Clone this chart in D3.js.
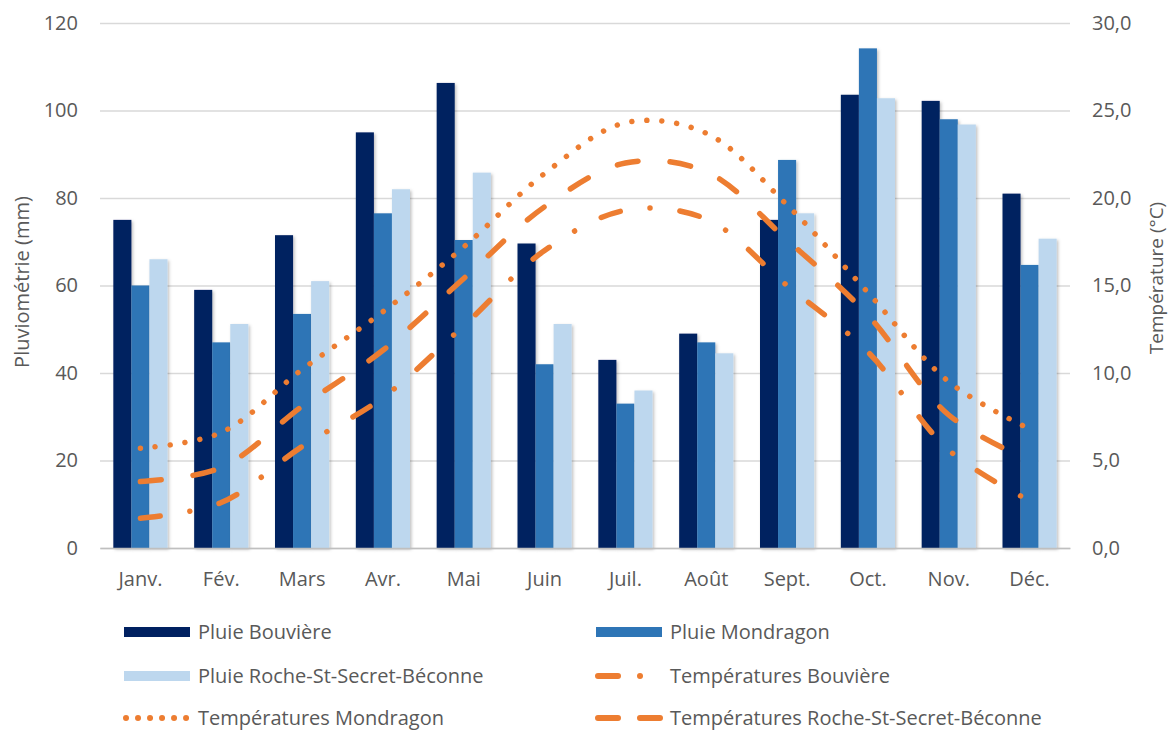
<!DOCTYPE html>
<html>
<head>
<meta charset="utf-8">
<script src="https://cdn.jsdelivr.net/npm/d3@7"></script>
<style>
  body { margin: 0; background: #fff; }
  svg text { font-family: "Open Sans", "Noto Sans", sans-serif; fill: #595959; }
</style>
</head>
<body>
<svg id="chart" width="1170" height="733"></svg>
<script>
// données
const months = ['Janv.', 'Fév.', 'Mars', 'Avr.', 'Mai', 'Juin', 'Juil.', 'Août', 'Sept.', 'Oct.', 'Nov.', 'Déc.'];

const pluieBouviere = [75, 59, 71.5, 95, 106.3, 69.6, 43, 49, 75, 103.6, 102.2, 81];
const pluieMondragon = [60, 47, 53.5, 76.5, 70.4, 42, 33, 47, 88.7, 114.2, 98, 64.7];
const pluieRoche = [66, 51.2, 61, 82, 85.8, 51.2, 36, 44.5, 76.5, 102.8, 96.8, 70.7];

const tempBouviere = [1.7, 2.6, 5.8, 8.6, 12.7, 17.0, 19.3, 18.8, 15.0, 11.2, 5.6, 2.7];
const tempMondragon = [5.7, 6.6, 10.2, 13.5, 17.2, 21.4, 24.3, 23.7, 19.6, 14.6, 9.5, 6.8];
const tempRoche = [3.8, 4.6, 8.1, 11.3, 15.4, 19.5, 22.0, 21.5, 17.6, 13.3, 7.6, 5.0];

const leftTicks = [0, 20, 40, 60, 80, 100, 120];
const rightTicks = [0, 5, 10, 15, 20, 25, 30];

const barSeries = [
  { name: 'Pluie Bouvière', values: pluieBouviere, color: '#002060' },
  { name: 'Pluie Mondragon', values: pluieMondragon, color: '#2E75B6' },
  { name: 'Pluie Roche-St-Secret-Béconne', values: pluieRoche, color: '#BDD7EE' }
];

const orange = '#ED7D31';
const lineSeries = [
  { name: 'Températures Bouvière', values: tempBouviere, dash: '20 30 0.01 30' },
  { name: 'Températures Mondragon', values: tempMondragon, dash: '0.01 15' },
  { name: 'Températures Roche-St-Secret-Béconne', values: tempRoche, dash: '21 32' }
];

const svg = d3.select('#chart');
const plot = { left: 100, right: 1070, top: 23, bottom: 548 };
const fontSize = 20;

const x = d3.scaleBand()
  .domain(months)
  .range([plot.left, plot.right])
  .paddingInner(0.33)
  .paddingOuter(0.165);

const xSub = d3.scaleBand()
  .domain(barSeries.map(d => d.name))
  .range([0, x.bandwidth()]);

const yLeft = d3.scaleLinear().domain([0, 120]).range([plot.bottom, plot.top]);
const yRight = d3.scaleLinear().domain([0, 30]).range([plot.bottom, plot.top]);

// ombre légère des barres
const defs = svg.append('defs');
defs.append('filter')
  .attr('id', 'shadow')
  .attr('x', '-20%').attr('y', '-5%').attr('width', '150%').attr('height', '115%')
  .append('feDropShadow')
  .attr('dx', 1.5).attr('dy', 1.5).attr('stdDeviation', 1.5)
  .attr('flood-color', '#000').attr('flood-opacity', 0.25);

// grille
svg.append('g')
  .attr('transform', `translate(${plot.left},0)`)
  .call(d3.axisLeft(yLeft).tickValues(leftTicks).tickSize(-(plot.right - plot.left)).tickFormat(''))
  .call(g => g.select('.domain').remove())
  .call(g => g.selectAll('line').attr('stroke', '#d9d9d9').attr('stroke-width', 1.3));

// étiquettes axe gauche
svg.append('g')
  .attr('transform', `translate(${plot.left},0)`)
  .call(d3.axisLeft(yLeft).tickValues(leftTicks).tickSize(0).tickPadding(22).tickFormat(d3.format('d')))
  .call(g => g.select('.domain').remove())
  .call(g => g.selectAll('text').attr('font-size', fontSize).attr('fill', '#595959'));

// étiquettes axe droit
const fr = d3.formatLocale({ decimal: ',', thousands: ' ', grouping: [3], currency: ['', ' €'] });
svg.append('g')
  .attr('transform', `translate(${plot.right},0)`)
  .call(d3.axisRight(yRight).tickValues(rightTicks).tickSize(0).tickPadding(22).tickFormat(fr.format('.1f')))
  .call(g => g.select('.domain').remove())
  .call(g => g.selectAll('text').attr('font-size', fontSize).attr('fill', '#595959'));

// barres
const groups = svg.append('g')
  .selectAll('g')
  .data(months)
  .join('g')
  .attr('transform', d => `translate(${x(d)},0)`);

groups.selectAll('rect')
  .data((m, i) => barSeries.map(s => ({ name: s.name, value: s.values[i], color: s.color })))
  .join('rect')
  .attr('x', d => xSub(d.name))
  .attr('width', xSub.bandwidth())
  .attr('y', d => yLeft(d.value))
  .attr('height', d => plot.bottom - yLeft(d.value))
  .attr('fill', d => d.color)
  .attr('filter', 'url(#shadow)');

// axe des x
svg.append('g')
  .attr('transform', `translate(0,${plot.bottom})`)
  .call(d3.axisBottom(x).tickSize(0).tickPadding(24))
  .call(g => g.select('.domain').attr('stroke', '#bfbfbf').attr('stroke-width', 1.3))
  .call(g => g.selectAll('text').attr('font-size', fontSize).attr('fill', '#595959'));

// courbes de température
const line = d3.line()
  .x((d, i) => x(months[i]) + x.bandwidth() / 2)
  .y(d => yRight(d))
  .curve(d3.curveCatmullRom.alpha(0.5));

svg.append('g')
  .selectAll('path')
  .data(lineSeries)
  .join('path')
  .attr('d', d => line(d.values))
  .attr('fill', 'none')
  .attr('stroke', orange)
  .attr('stroke-width', 5.5)
  .attr('stroke-linecap', 'round')
  .attr('stroke-dasharray', d => d.dash);

// titres des axes
svg.append('text')
  .attr('transform', 'translate(22,282) rotate(-90)')
  .attr('text-anchor', 'middle')
  .attr('dy', '0.35em')
  .attr('font-size', fontSize)
  .text('Pluviométrie (mm)');

svg.append('text')
  .attr('transform', 'translate(1156,278) rotate(-90)')
  .attr('text-anchor', 'middle')
  .attr('dy', '0.35em')
  .attr('font-size', 19)
  .text('Température (°C)');

// légende
const legendItems = [
  { label: barSeries[0].name, type: 'bar', color: barSeries[0].color, col: 0, row: 0 },
  { label: barSeries[1].name, type: 'bar', color: barSeries[1].color, col: 1, row: 0 },
  { label: barSeries[2].name, type: 'bar', color: barSeries[2].color, col: 0, row: 1 },
  { label: lineSeries[0].name, type: 'line', dash: '20 22 0.01 30', col: 1, row: 1 },
  { label: lineSeries[1].name, type: 'line', dash: '0.01 12', col: 0, row: 2 },
  { label: lineSeries[2].name, type: 'line', dash: '20 22', col: 1, row: 2 }
];
const colX = [124, 596];
const rowY = [632, 676, 718];

const legend = svg.append('g')
  .selectAll('g')
  .data(legendItems)
  .join('g')
  .attr('transform', d => `translate(${colX[d.col]},${rowY[d.row]})`);

legend.filter(d => d.type === 'bar')
  .append('rect')
  .attr('x', 0).attr('y', -5)
  .attr('width', 66).attr('height', 10)
  .attr('fill', d => d.color);

legend.filter(d => d.type === 'line')
  .append('line')
  .attr('x1', 2).attr('x2', 64)
  .attr('y1', 0).attr('y2', 0)
  .attr('stroke', orange)
  .attr('stroke-width', 6)
  .attr('stroke-linecap', 'round')
  .attr('stroke-dasharray', d => d.dash);

legend.append('text')
  .attr('x', 74)
  .attr('y', 0)
  .attr('dy', '0.35em')
  .attr('font-size', 20)
  .text(d => d.label);
</script>
</body>
</html>
